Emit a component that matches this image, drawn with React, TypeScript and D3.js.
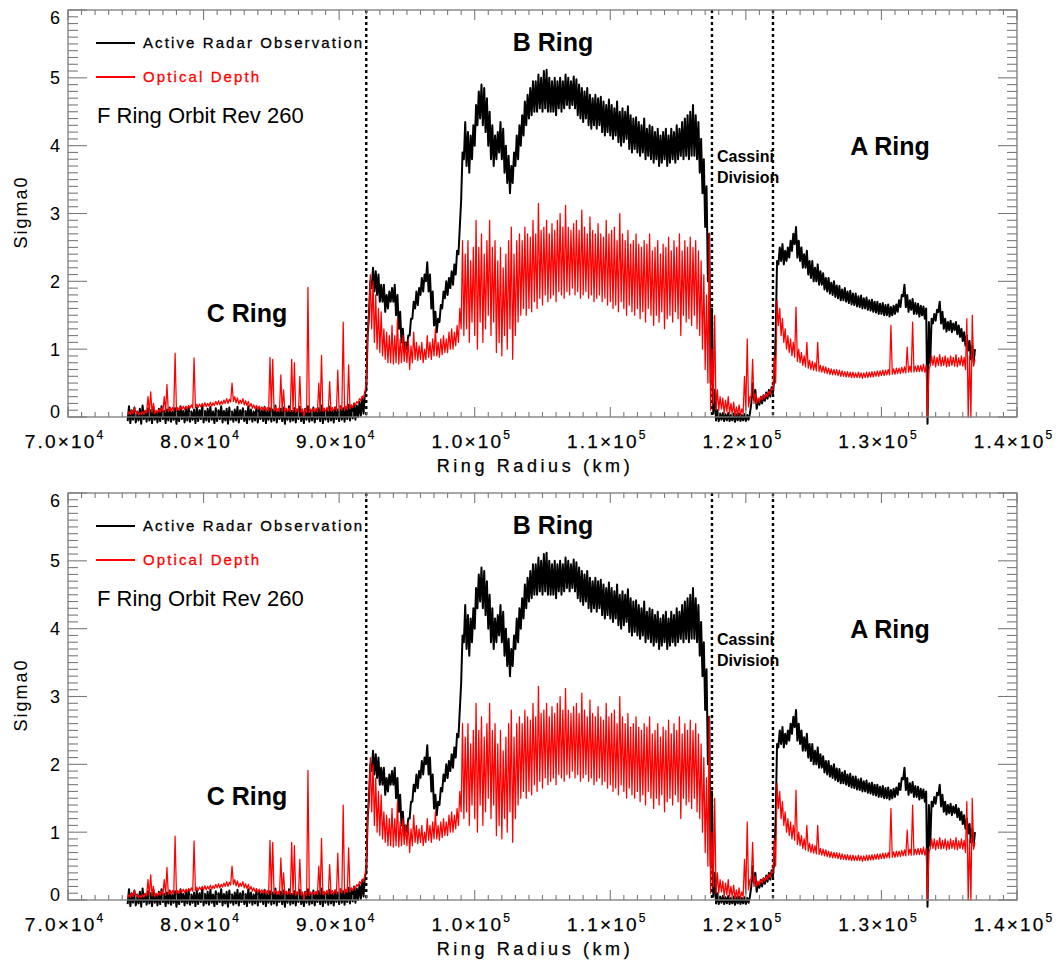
import React from 'react';
import * as d3 from 'd3';

const WIDTH = 1064;
const HEIGHT = 962;

// Radial bin width of every profile segment (km); each bin keeps its min and max
const RADIUS_STEP = 200;
const C_RING_START = 74400;
const B_RING_START = 92000;
const CASSINI_START = 117600;
const A_RING_START = 122200;

// Ring boundaries drawn as dotted lines (km)
const boundaries = [92000, 117500, 122000];

// Axis tick values
const xMajorTicks = [70000, 80000, 90000, 100000, 110000, 120000, 130000, 140000];
const yMajorTicks = [0, 1, 2, 3, 4, 5, 6];

// ---- Active radar backscatter (Sigma0): per-bin minimum / maximum ----
const radarCLo = [
  -0.06, -0.09, -0.04, -0.08, -0.05, -0.1, -0.03, -0.07, -0.05, -0.09,
  -0.04, -0.08, -0.06, -0.03, -0.09, -0.05, -0.07, -0.04, -0.1, -0.06,
  -0.03, -0.08, -0.05, -0.07, -0.04, -0.09, -0.06, -0.03, -0.08, -0.05,
  -0.07, -0.04, -0.09, -0.06, -0.03, -0.08, -0.05, -0.1, -0.04, -0.07,
  -0.05, -0.08, -0.03, -0.06, -0.09, -0.04, -0.07, -0.05, -0.08, -0.03,
  -0.06, -0.09, -0.04, -0.07, -0.05, -0.08, -0.03, -0.06, -0.1, -0.04,
  -0.07, -0.05, -0.08, -0.03, -0.06, -0.09, -0.04, -0.07, -0.05, -0.08,
  -0.03, -0.06, -0.09, -0.04, -0.07, -0.05, -0.08, -0.03, -0.06, -0.04,
  -0.07, -0.03, -0.05, -0.02, -0.04, 0.0, 0.02, 0.05,
];
const radarCHi = [
  0.16, 0.1, 0.14, 0.08, 0.12, 0.17, 0.09, 0.13, 0.1, 0.15,
  0.08, 0.12, 0.16, 0.09, 0.11, 0.14, 0.08, 0.13, 0.1, 0.16,
  0.09, 0.12, 0.15, 0.08, 0.11, 0.14, 0.1, 0.17, 0.09, 0.12,
  0.15, 0.08, 0.13, 0.1, 0.16, 0.09, 0.12, 0.14, 0.08, 0.11,
  0.15, 0.1, 0.13, 0.09, 0.16, 0.11, 0.08, 0.14, 0.12, 0.1,
  0.15, 0.09, 0.13, 0.11, 0.17, 0.08, 0.12, 0.14, 0.1, 0.16,
  0.09, 0.13, 0.11, 0.15, 0.08, 0.12, 0.16, 0.1, 0.14, 0.09,
  0.13, 0.17, 0.1, 0.12, 0.15, 0.09, 0.14, 0.11, 0.16, 0.13,
  0.12, 0.18, 0.15, 0.2, 0.17, 0.22, 0.28, 0.35,
];

const radarBLo = [
  0.4, 1.5, 1.9, 1.85, 1.8, 1.7, 1.7, 1.55, 1.6, 1.7,
  1.7, 1.5, 1.3, 1.1, 0.95, 1.0, 1.2, 1.45, 1.6, 1.65,
  1.8, 1.85, 2.0, 1.85, 1.6, 1.35, 1.25, 1.4, 1.6, 1.75,
  1.8, 1.9, 1.95, 2.1, 2.4, 3.2, 3.8, 3.7, 3.6, 3.8,
  4.0, 4.3, 4.4, 4.3, 4.2, 4.0, 3.8, 3.7, 3.8, 3.9,
  3.8, 3.6, 3.45, 3.3, 3.45, 3.7, 3.8, 4.0, 4.15, 4.3,
  4.4, 4.45, 4.5, 4.5, 4.55, 4.5, 4.55, 4.5, 4.5, 4.5,
  4.45, 4.55, 4.5, 4.55, 4.6, 4.55, 4.6, 4.55, 4.45, 4.4,
  4.35, 4.4, 4.3, 4.25, 4.3, 4.25, 4.3, 4.2, 4.15, 4.2,
  4.15, 4.1, 4.15, 4.05, 4.0, 4.05, 4.1, 3.95, 3.9, 3.95,
  3.9, 3.85, 3.9, 3.8, 3.85, 3.8, 3.75, 3.8, 3.7, 3.75,
  3.8, 3.7, 3.75, 3.8, 3.75, 3.8, 3.85, 3.8, 3.85, 3.8,
  3.85, 3.85, 3.8, 3.6, 3.3, 2.8, 2.0, 0.5,
];
const radarBHi = [
  1.2, 2.0, 2.2, 2.15, 2.1, 1.95, 1.95, 1.8, 1.85, 1.9,
  1.95, 1.8, 1.55, 1.3, 1.1, 1.2, 1.45, 1.7, 1.85, 1.9,
  2.05, 2.1, 2.28, 2.1, 1.85, 1.55, 1.45, 1.65, 1.85, 2.0,
  2.05, 2.15, 2.25, 2.45, 2.8, 3.9, 4.35, 4.2, 4.15, 4.3,
  4.6, 4.8, 4.9, 4.85, 4.7, 4.5, 4.3, 4.15, 4.2, 4.35,
  4.25, 4.0, 3.85, 3.7, 3.9, 4.15, 4.3, 4.45, 4.65, 4.75,
  4.85, 4.95, 4.95, 5.05, 5.0, 5.1, 5.12, 5.0, 4.95, 5.0,
  4.95, 5.0, 4.95, 5.05, 5.0, 4.95, 5.02, 4.98, 4.9, 4.85,
  4.8, 4.85, 4.75, 4.7, 4.75, 4.7, 4.72, 4.65, 4.6, 4.68,
  4.6, 4.55, 4.65, 4.5, 4.55, 4.5, 4.58, 4.45, 4.4, 4.42,
  4.35, 4.3, 4.4, 4.25, 4.3, 4.28, 4.2, 4.25, 4.15, 4.2,
  4.25, 4.15, 4.25, 4.2, 4.3, 4.25, 4.35, 4.4, 4.45, 4.5,
  4.6, 4.45, 4.35, 4.1, 3.8, 3.4, 2.7, 1.6,
];

const radarCassiniLo = [
  0.05, -0.05, -0.06, -0.04, -0.06, -0.05, -0.06, -0.05, -0.07, -0.05,
  -0.06, -0.05, -0.06, -0.04, 0.2, 0.25, 0.12, 0.18, 0.2, 0.24,
  0.27, 0.3, 0.35,
];
const radarCassiniHi = [
  0.4, 0.1, 0.05, 0.06, 0.04, 0.06, 0.03, 0.05, 0.04, 0.05,
  0.03, 0.04, 0.03, 0.05, 0.5, 0.4, 0.25, 0.3, 0.32, 0.36,
  0.4, 0.44, 0.6,
];

const radarALo = [
  1.2, 2.25, 2.3, 2.25, 2.3, 2.35, 2.45, 2.55, 2.35, 2.3,
  2.2, 2.2, 2.1, 2.05, 2.0, 2.0, 1.95, 1.95, 1.88, 1.85,
  1.82, 1.8, 1.77, 1.75, 1.72, 1.72, 1.7, 1.68, 1.66, 1.65,
  1.63, 1.62, 1.6, 1.6, 1.58, 1.57, 1.55, 1.54, 1.52, 1.52,
  1.5, 1.5, 1.48, 1.5, 1.52, 1.55, 1.62, 1.78, 1.62, 1.55,
  1.58, 1.52, 1.52, 1.48, 1.5, 1.45, -0.1, 0.8, 1.38, 1.42,
  1.55, 1.38, 1.3, 1.26, 1.28, 1.25, 1.28, 1.22, 1.18, 1.12,
  1.05, 0.98, 0.85, 0.8,
];
const radarAHi = [
  2.3, 2.5, 2.55, 2.45, 2.5, 2.6, 2.7, 2.8, 2.6, 2.5,
  2.4, 2.45, 2.3, 2.3, 2.2, 2.25, 2.15, 2.12, 2.05, 2.05,
  1.98, 2.0, 1.94, 1.93, 1.88, 1.9, 1.85, 1.86, 1.82, 1.82,
  1.78, 1.79, 1.75, 1.76, 1.72, 1.73, 1.7, 1.7, 1.67, 1.68,
  1.65, 1.66, 1.62, 1.64, 1.66, 1.72, 1.8, 1.95, 1.8, 1.72,
  1.74, 1.68, 1.67, 1.64, 1.63, 1.6, 1.4, 1.45, 1.52, 1.58,
  1.7, 1.55, 1.45, 1.4, 1.42, 1.38, 1.4, 1.35, 1.3, 1.25,
  1.2, 1.12, 1.05, 1.0,
];

// ---- Optical depth: per-bin minimum / maximum ----
const opticalCLo = [
  0.03, 0.04, 0.05, 0.04, 0.03, 0.04, 0.04, 0.06, 0.07, 0.06,
  0.05, 0.06, 0.07, 0.08, 0.08, 0.08, 0.09, 0.09, 0.09, 0.1,
  0.11, 0.11, 0.12, 0.13, 0.13, 0.14, 0.14, 0.15, 0.15, 0.15,
  0.16, 0.16, 0.17, 0.18, 0.18, 0.19, 0.2, 0.2, 0.22, 0.23,
  0.21, 0.19, 0.2, 0.18, 0.17, 0.15, 0.13, 0.12, 0.11, 0.11,
  0.1, 0.09, 0.09, 0.09, 0.09, 0.08, 0.08, 0.08, 0.08, 0.08,
  0.08, 0.08, 0.07, 0.07, 0.07, 0.0, 0.07, 0.07, 0.07, 0.08,
  0.08, 0.08, 0.08, 0.08, 0.08, 0.09, 0.09, 0.09, 0.1, 0.1,
  0.1, 0.11, 0.12, 0.14, 0.17, 0.2, 0.24, 0.28,
];
const opticalCHi = [
  0.08, 0.1, 0.14, 0.08, 0.07, 0.08, 0.1, 0.3, 0.37, 0.2,
  0.1, 0.11, 0.13, 0.3, 0.48, 0.13, 0.14, 0.94, 0.14, 0.15,
  0.16, 0.16, 0.17, 0.18, 0.87, 0.19, 0.19, 0.2, 0.21, 0.2,
  0.22, 0.21, 0.23, 0.24, 0.23, 0.25, 0.27, 0.26, 0.5, 0.3,
  0.28, 0.25, 0.27, 0.24, 0.23, 0.2, 0.18, 0.17, 0.16, 0.15,
  0.15, 0.14, 0.88, 0.85, 0.14, 0.13, 0.62, 0.4, 0.13, 0.13,
  0.85, 0.8, 0.12, 0.6, 0.12, 0.12, 1.91, 0.12, 0.12, 0.13,
  0.5, 0.91, 0.13, 0.14, 0.52, 0.14, 0.15, 0.69, 0.15, 1.4,
  0.16, 0.77, 0.18, 0.2, 0.23, 0.27, 0.31, 0.36,
];

const opticalBLo = [
  0.5, 1.5, 1.3, 1.1, 1.0, 0.95, 0.9, 0.85, 0.8, 0.8,
  0.78, 0.8, 0.78, 0.8, 0.82, 0.8, 0.7, 0.8, 0.85, 0.83,
  0.85, 0.8, 0.85, 0.88, 0.85, 0.9, 0.9, 0.88, 0.92, 0.95,
  0.95, 1.0, 1.0, 1.05, 1.1, 1.3, 1.2, 1.3, 1.1, 1.4,
  1.2, 1.0, 1.4, 1.1, 1.3, 1.5, 1.2, 1.4, 0.95, 1.1,
  0.9, 1.2, 1.0, 1.3, 0.85, 1.2, 1.4, 1.5, 1.6, 1.5,
  1.6, 1.55, 1.7, 1.6, 1.75, 1.65, 1.8, 1.7, 1.75, 1.8,
  1.7, 1.85, 1.8, 1.75, 1.85, 1.8, 1.9, 1.8, 1.85, 1.75,
  1.8, 1.85, 1.75, 1.8, 1.7, 1.75, 1.8, 1.7, 1.75, 1.65,
  1.7, 1.6, 1.65, 1.55, 1.7, 1.6, 1.5, 1.65, 1.55, 1.5,
  1.6, 1.45, 1.55, 1.4, 1.6, 1.5, 1.35, 1.5, 1.4, 1.55,
  1.3, 1.45, 1.5, 1.4, 1.55, 1.45, 1.2, 1.5, 1.4, 1.45,
  1.35, 1.5, 1.3, 1.2, 1.0, 0.7, 0.5, 0.1,
];
const opticalBHi = [
  1.2, 2.1, 2.0, 1.8, 1.6, 1.55, 1.3, 1.25, 1.2, 1.35,
  1.2, 1.45, 1.15, 1.2, 1.1, 1.15, 1.05, 1.25, 1.1, 1.05,
  1.1, 1.0, 1.2, 1.1, 1.15, 1.3, 1.1, 1.15, 1.2, 1.15,
  1.25, 1.3, 1.25, 1.35, 1.6, 2.6, 2.4, 2.6, 2.3, 2.5,
  2.9, 2.5, 2.7, 2.4, 2.6, 2.9, 2.5, 2.6, 2.3, 2.5,
  2.2, 2.4, 2.6, 2.8, 2.4, 2.6, 2.7, 2.6, 2.8, 2.7,
  2.65, 2.9, 2.7, 3.15, 2.75, 2.8, 2.9, 2.7, 2.85, 2.75,
  2.9, 3.0, 2.8, 3.12, 2.8, 2.75, 2.85, 2.9, 2.75, 3.05,
  2.8, 2.7, 2.95, 2.75, 2.7, 2.85, 2.7, 2.65, 2.9, 2.7,
  2.75, 2.8, 2.6, 3.0, 2.7, 2.6, 2.75, 2.55, 2.6, 2.7,
  2.55, 2.5, 2.6, 2.55, 2.7, 2.45, 2.5, 2.6, 2.4, 2.55,
  2.5, 2.65, 2.45, 2.6, 2.5, 2.7, 2.45, 2.6, 2.5, 2.65,
  2.5, 2.6, 2.45, 2.3, 2.1, 1.8, 2.7, 1.0,
];

const opticalCassiniLo = [
  0.2, 0.1, 0.1, 0.12, 0.05, 0.08, 0.05, 0.03, 0.02, 0.03,
  0.02, 0.05, 0.1, 0.15, 0.3, 0.2, 0.2, 0.22, 0.25, 0.28,
  0.3, 0.33, 0.4,
];
const opticalCassiniHi = [
  1.5, 0.4, 0.3, 0.28, 0.25, 0.3, 0.2, 0.22, 0.15, 0.18,
  0.12, 0.6, 1.15, 0.3, 0.85, 0.35, 0.28, 0.3, 0.32, 0.35,
  0.38, 0.42, 0.9,
];

const opticalALo = [
  0.5, 1.35, 1.2, 1.1, 1.0, 0.95, 0.9, 0.88, 0.82, 0.8,
  0.76, 0.74, 0.72, 0.7, 0.69, 0.68, 0.67, 0.66, 0.65, 0.64,
  0.63, 0.62, 0.62, 0.61, 0.6, 0.6, 0.59, 0.59, 0.58, 0.58,
  0.58, 0.58, 0.57, 0.58, 0.58, 0.59, 0.59, 0.6, 0.6, 0.61,
  0.61, 0.62, 0.62, 0.63, 0.63, 0.64, 0.64, 0.65, 0.65, 0.66,
  0.66, 0.66, 0.67, 0.67, 0.67, 0.66, 0.0, 0.75, 0.76, 0.74,
  0.76, 0.75, 0.76, 0.74, 0.75, 0.76, 0.75, 0.74, 0.76, 0.75,
  0.7, 0.0, 0.0, 0.75,
];
const opticalAHi = [
  1.72, 1.6, 1.45, 1.3, 1.2, 1.15, 1.1, 1.62, 1.0, 0.95,
  0.9, 1.1, 0.84, 0.82, 0.8, 1.1, 0.76, 0.75, 0.74, 0.72,
  0.71, 0.7, 0.7, 0.69, 0.68, 0.67, 0.67, 0.66, 0.66, 0.65,
  0.66, 0.65, 0.65, 0.66, 0.66, 0.67, 0.67, 0.68, 0.68, 0.69,
  0.69, 0.7, 1.35, 0.71, 0.72, 0.72, 0.73, 0.74, 1.03, 0.75,
  1.4, 0.75, 0.76, 0.76, 0.78, 0.76, 0.7, 0.9, 0.9, 0.88,
  0.92, 0.88, 0.9, 0.87, 0.9, 0.88, 0.92, 0.87, 0.9, 0.88,
  1.45, 0.9, 1.5, 0.85,
];

type Pt = { r: number; v: number };

// Each bin contributes its minimum then its maximum, so a dense signal is
// drawn as a min/max envelope trace.
function buildProfile(segments: [number, number[], number[]][]): Pt[] {
  const out: Pt[] = [];
  segments.forEach(([start, lo, hi]) => {
    lo.forEach((v, i) => {
      const r = start + i * RADIUS_STEP;
      out.push({ r, v });
      out.push({ r: r + RADIUS_STEP / 2, v: hi[i] });
    });
  });
  return out;
}

const radarProfile = buildProfile([
  [C_RING_START, radarCLo, radarCHi],
  [B_RING_START, radarBLo, radarBHi],
  [CASSINI_START, radarCassiniLo, radarCassiniHi],
  [A_RING_START, radarALo, radarAHi],
]);

const opticalProfile = buildProfile([
  [C_RING_START, opticalCLo, opticalCHi],
  [B_RING_START, opticalBLo, opticalBHi],
  [CASSINI_START, opticalCassiniLo, opticalCassiniHi],
  [A_RING_START, opticalALo, opticalAHi],
]);

const FRAME = { left: 68, right: 1017, top: 10, bottom: 417 };
const AXIS_GREY = '#7a7a7a';
const SANS = '"Liberation Sans", Arial, Helvetica, sans-serif';

const x = d3.scaleLinear().domain([70000, 140000]).range([FRAME.left, FRAME.right]);
const y = d3.scaleLinear().domain([0, 6]).range([FRAME.bottom, FRAME.top]);

const lineGen = d3
  .line<Pt>()
  .x((d) => x(d.r))
  .y((d) => y(d.v));

function tickLabel(v: number): [string, string] {
  const e = Math.floor(Math.log10(v) + 1e-9);
  const m = v / Math.pow(10, e);
  return [m.toFixed(1) + '×10', String(e)];
}

function Panel({ offsetY }: { offsetY: number }) {
  const xMinor = d3.range(70000, 140001, 1000);
  const yMinor = d3.range(0, 60.5, 1).map((k) => k / 10);
  const radarPath = lineGen(radarProfile) || '';
  const opticalPath = lineGen(opticalProfile) || '';

  return (
    <g transform={`translate(0,${offsetY})`}>
      {/* boundaries between ring regions */}
      {boundaries.map((b) => (
        <line
          key={b}
          x1={x(b)}
          x2={x(b)}
          y1={FRAME.top}
          y2={FRAME.bottom}
          stroke="#000"
          strokeWidth={2.4}
          strokeDasharray="3,3"
        />
      ))}

      {/* profiles */}
      <path d={radarPath} fill="none" stroke="#000" strokeWidth={2} strokeLinejoin="round" />
      <path d={opticalPath} fill="none" stroke="#ff0000" strokeWidth={1.25} strokeLinejoin="round" />

      {/* frame */}
      <rect
        x={FRAME.left}
        y={FRAME.top}
        width={FRAME.right - FRAME.left}
        height={FRAME.bottom - FRAME.top}
        fill="none"
        stroke={AXIS_GREY}
        strokeWidth={1.3}
      />

      {/* x ticks, bottom and top, pointing inward */}
      {xMinor.map((t) => {
        const major = xMajorTicks.includes(t);
        const len = major ? 10 : 5;
        return (
          <g key={'xt' + t}>
            <line x1={x(t)} x2={x(t)} y1={FRAME.bottom} y2={FRAME.bottom - len} stroke={AXIS_GREY} strokeWidth={1.1} />
            <line x1={x(t)} x2={x(t)} y1={FRAME.top} y2={FRAME.top + len} stroke={AXIS_GREY} strokeWidth={1.1} />
          </g>
        );
      })}

      {/* y ticks, left and right, pointing inward */}
      {yMinor.map((t) => {
        const major = Math.abs(t - Math.round(t)) < 1e-9;
        const len = major ? 19 : 10;
        return (
          <g key={'yt' + t}>
            <line x1={FRAME.left} x2={FRAME.left + len} y1={y(t)} y2={y(t)} stroke={AXIS_GREY} strokeWidth={1.1} />
            <line x1={FRAME.right} x2={FRAME.right - len} y1={y(t)} y2={y(t)} stroke={AXIS_GREY} strokeWidth={1.1} />
          </g>
        );
      })}

      {/* y tick labels */}
      {yMajorTicks.map((t) => {
        const cy = Math.min(Math.max(y(t), FRAME.top + 7), FRAME.bottom - 6);
        return (
          <text key={'yl' + t} x={60} y={cy + 6.5} textAnchor="end" fontFamily={SANS} fontSize={18} fill="#000">
            {t}
          </text>
        );
      })}

      {/* x tick labels */}
      {xMajorTicks.map((t) => {
        const [base, exp] = tickLabel(t);
        return (
          <text
            key={'xl' + t}
            x={x(t) - 4}
            y={448}
            textAnchor="middle"
            fontFamily={SANS}
            fontSize={19}
            letterSpacing={2.2}
            fill="#000"
            stroke="#000"
            strokeWidth={0.25}
          >
            {base}
            <tspan dy={-9} fontSize={12} letterSpacing={0}>
              {exp}
            </tspan>
          </text>
        );
      })}

      {/* axis titles */}
      <text
        x={535}
        y={472}
        textAnchor="middle"
        fontFamily={SANS}
        fontSize={18}
        letterSpacing={3.6}
        fill="#000"
        stroke="#000"
        strokeWidth={0.25}
      >
        Ring Radius (km)
      </text>
      <text
        transform={`translate(27,${212}) rotate(-90)`}
        textAnchor="middle"
        fontFamily={SANS}
        fontSize={18}
        letterSpacing={2}
        fill="#000"
      >
        Sigma0
      </text>

      {/* legend */}
      <line x1={96} x2={135} y1={43} y2={43} stroke="#000" strokeWidth={2} />
      <text x={143} y={48} fontFamily={SANS} fontSize={15} letterSpacing={2.1} fill="#000" stroke="#000" strokeWidth={0.3}>
        Active Radar Observation
      </text>
      <line x1={96} x2={135} y1={77} y2={77} stroke="#ff0000" strokeWidth={2} />
      <text x={143} y={82} fontFamily={SANS} fontSize={15} letterSpacing={2.1} fill="#ff0000" stroke="#ff0000" strokeWidth={0.3}>
        Optical Depth
      </text>
      <text x={97} y={123} fontFamily={SANS} fontSize={22} fill="#000">
        F Ring Orbit Rev 260
      </text>

      {/* ring region annotations */}
      <text x={553} y={51} textAnchor="middle" fontFamily={SANS} fontWeight="bold" fontSize={25} fill="#000">
        B Ring
      </text>
      <text x={890} y={155} textAnchor="middle" fontFamily={SANS} fontWeight="bold" fontSize={25} fill="#000">
        A Ring
      </text>
      <text x={247} y={322} textAnchor="middle" fontFamily={SANS} fontWeight="bold" fontSize={25} fill="#000">
        C Ring
      </text>
      <text x={717} y={162} fontFamily={SANS} fontWeight="bold" fontSize={16} fill="#000">
        Cassini
      </text>
      <text x={717} y={183} fontFamily={SANS} fontWeight="bold" fontSize={16} fill="#000">
        Division
      </text>
    </g>
  );
}

export default function App() {
  return (
    <svg
      width={WIDTH}
      height={HEIGHT}
      viewBox={`0 0 ${WIDTH} ${HEIGHT}`}
      style={{ position: 'absolute', left: 0, top: 0, background: '#fff', display: 'block' }}
    >
      <rect width={WIDTH} height={HEIGHT} fill="#fff" />
      <Panel offsetY={0} />
      <Panel offsetY={483} />
    </svg>
  );
}
